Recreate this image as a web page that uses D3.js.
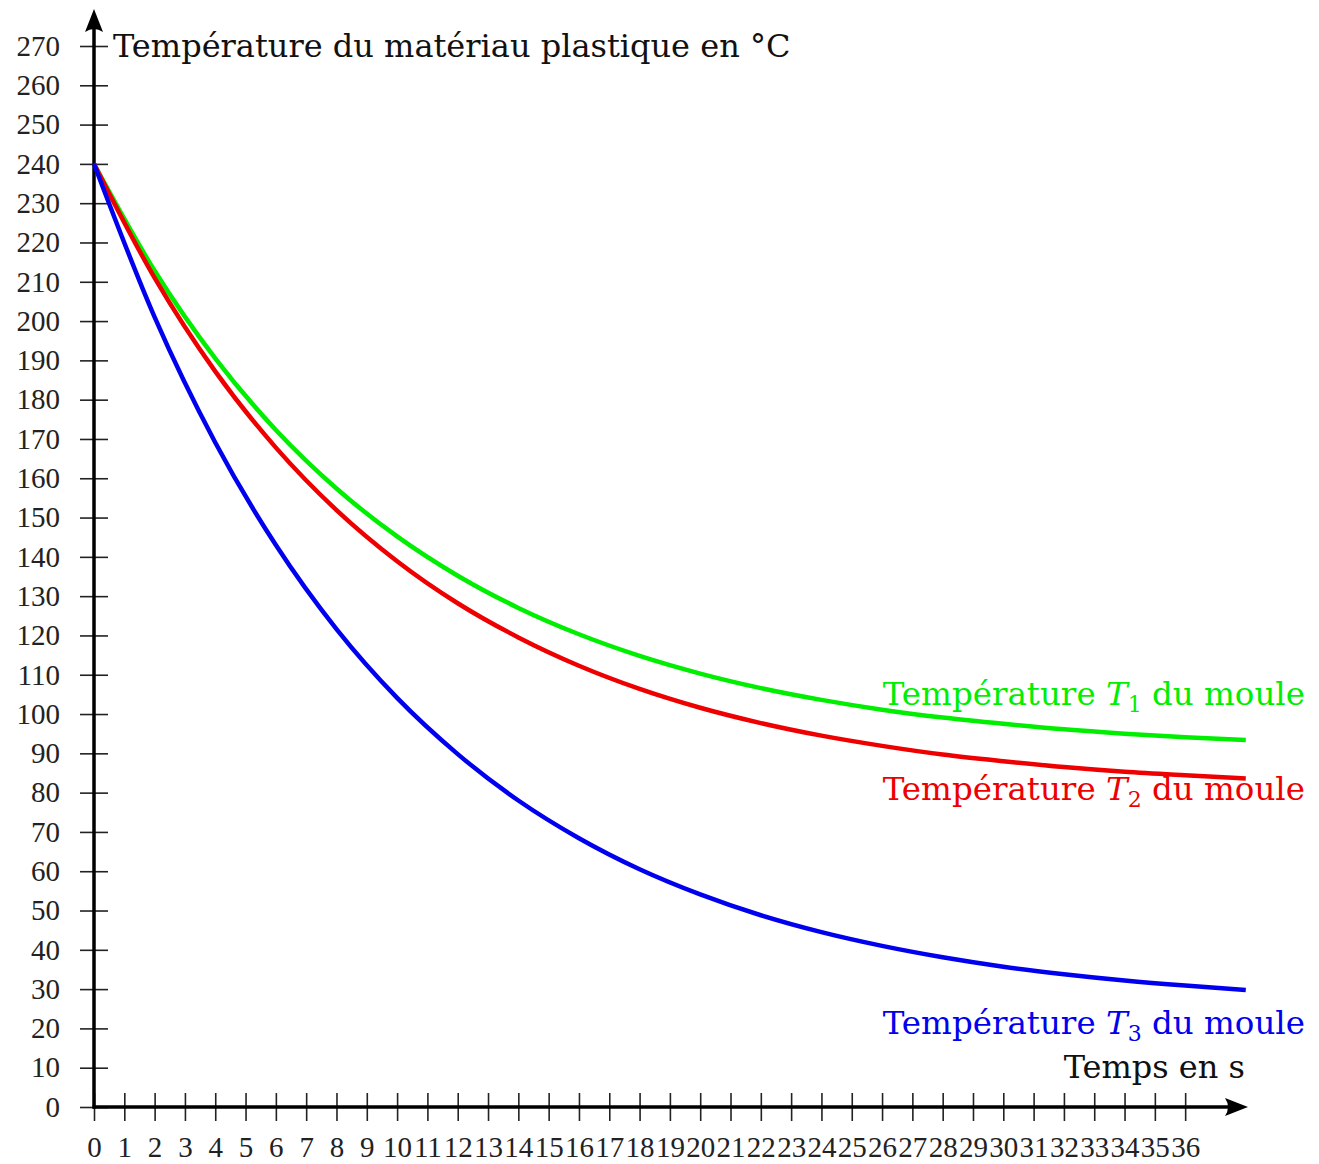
<!DOCTYPE html>
<html>
<head>
<meta charset="utf-8">
<script src="https://cdn.jsdelivr.net/npm/d3@7"></script>
<style>
  body { margin: 0; background: #fff; }
  svg { display: block; }
</style>
</head>
<body>
<svg id="chart" width="1319" height="1164"></svg>
<script>
// temps en s
const times = [0, 2, 4, 6, 8, 10, 12, 14, 16, 18, 20, 22, 24, 26, 28, 30, 32, 34, 36, 38]
const t1Values = [240, 212.8, 190.5, 172.3, 157.4, 145.2, 135.2, 127.0, 120.3, 114.8, 110.3, 106.6, 103.6, 101.1, 99.1, 97.5, 96.1, 95.0, 94.1, 93.4]
const t2Values = [240, 211.0, 187.2, 167.8, 151.9, 138.9, 128.2, 119.5, 112.3, 106.4, 101.6, 97.7, 94.5, 91.9, 89.7, 88.0, 86.5, 85.3, 84.4, 83.6]
const t3Values = [240, 201.0, 169.1, 143.0, 121.6, 104.1, 89.8, 78.0, 68.4, 60.5, 54.1, 48.8, 44.5, 41.0, 38.1, 35.7, 33.8, 32.2, 30.9, 29.8]

const xTicks = [0, 1, 2, 3, 4, 5, 6, 7, 8, 9, 10, 11, 12, 13, 14, 15, 16, 17, 18, 19, 20, 21, 22, 23, 24, 25, 26, 27, 28, 29, 30, 31, 32, 33, 34, 35, 36]
const yTicks = [0, 10, 20, 30, 40, 50, 60, 70, 80, 90, 100, 110, 120, 130, 140, 150, 160, 170, 180, 190, 200, 210, 220, 230, 240, 250, 260, 270]

// labelY : ordonnee (en degres) de la ligne de base de la legende
const series = [
  { name: '1', values: t1Values, color: '#00ee00', labelY: 102.3 },
  { name: '2', values: t2Values, color: '#ee0000', labelY: 78.2 },
  { name: '3', values: t3Values, color: '#0000ee', labelY: 18.6 }
]

const svg = d3.select('#chart')
const textFont = 'DejaVu Serif, serif'
const numFont = 'Liberation Serif, serif'
const ox = 94
const oy = 1107

const xScale = d3.scaleLinear()
  .domain([0, 38])
  .range([ox, ox + 38 * 30.31])

const yScale = d3.scaleLinear()
  .domain([0, 270])
  .range([oy, 46])

// axe des ordonnees
const yAxis = d3.axisLeft(yScale)
  .tickValues(yTicks)
  .tickSize(14)
  .tickPadding(20)

const gy = svg.append('g')
  .attr('transform', `translate(${ox}, 0)`)
  .call(yAxis)

gy.selectAll('.tick line').attr('x1', 14).attr('stroke', '#222').attr('stroke-width', 1.6)
gy.selectAll('.tick text').attr('font-family', numFont).attr('font-size', 29).attr('fill', '#222')

// axe des abscisses
const xAxis = d3.axisBottom(xScale)
  .tickValues(xTicks)
  .tickSize(14)
  .tickPadding(15)

const gx = svg.append('g')
  .attr('transform', `translate(0, ${oy})`)
  .call(xAxis)

gx.selectAll('.tick line').attr('y1', -14).attr('stroke', '#222').attr('stroke-width', 1.6)
gx.selectAll('.tick text').attr('font-family', numFont).attr('font-size', 29).attr('fill', '#222')

svg.selectAll('path.domain').remove()

// traits des axes + fleches
svg.append('line')
  .attr('x1', ox).attr('y1', oy + 1.5)
  .attr('x2', ox).attr('y2', 24)
  .attr('stroke', '#000').attr('stroke-width', 3.5)

svg.append('line')
  .attr('x1', ox - 1.5).attr('y1', oy)
  .attr('x2', 1232).attr('y2', oy)
  .attr('stroke', '#000').attr('stroke-width', 3.5)

svg.append('path')
  .attr('d', `M ${ox} 9 L ${ox + 9} 32 Q ${ox} 26 ${ox - 9} 32 Z`)
  .attr('fill', '#000')

svg.append('path')
  .attr('d', `M 1248 ${oy} L 1225 ${oy + 9} Q 1231 ${oy} 1225 ${oy - 9} Z`)
  .attr('fill', '#000')

// courbes
const line = d3.line()
  .x((d, i) => xScale(times[i]))
  .y(d => yScale(d))
  .curve(d3.curveMonotoneX)

svg.selectAll('path.curve')
  .data(series)
  .enter()
  .append('path')
    .attr('class', 'curve')
    .attr('d', d => line(d.values))
    .attr('fill', 'none')
    .attr('stroke', d => d.color)
    .attr('stroke-width', 4.5)

// legendes des courbes
const labels = svg.selectAll('text.serie')
  .data(series)
  .enter()
  .append('text')
    .attr('class', 'serie')
    .attr('x', 1305)
    .attr('y', d => yScale(d.labelY))
    .attr('text-anchor', 'end')
    .attr('font-family', textFont)
    .attr('font-size', 32.5)
    .attr('fill', d => d.color)

labels.append('tspan').text('Température ')
labels.append('tspan').attr('font-style', 'italic').text('T')
labels.append('tspan').attr('font-size', 22).attr('dy', 7).text(d => d.name)
labels.append('tspan').attr('dy', -7).text(' du moule')

// titres des axes
svg.append('text')
  .attr('x', 113)
  .attr('y', 57)
  .attr('font-family', textFont)
  .attr('font-size', 32)
  .attr('fill', '#111')
  .text('Température du matériau plastique en °C')

svg.append('text')
  .attr('x', 1245)
  .attr('y', 1078)
  .attr('text-anchor', 'end')
  .attr('font-family', textFont)
  .attr('font-size', 32)
  .attr('fill', '#111')
  .text('Temps en s')
</script>
</body>
</html>
